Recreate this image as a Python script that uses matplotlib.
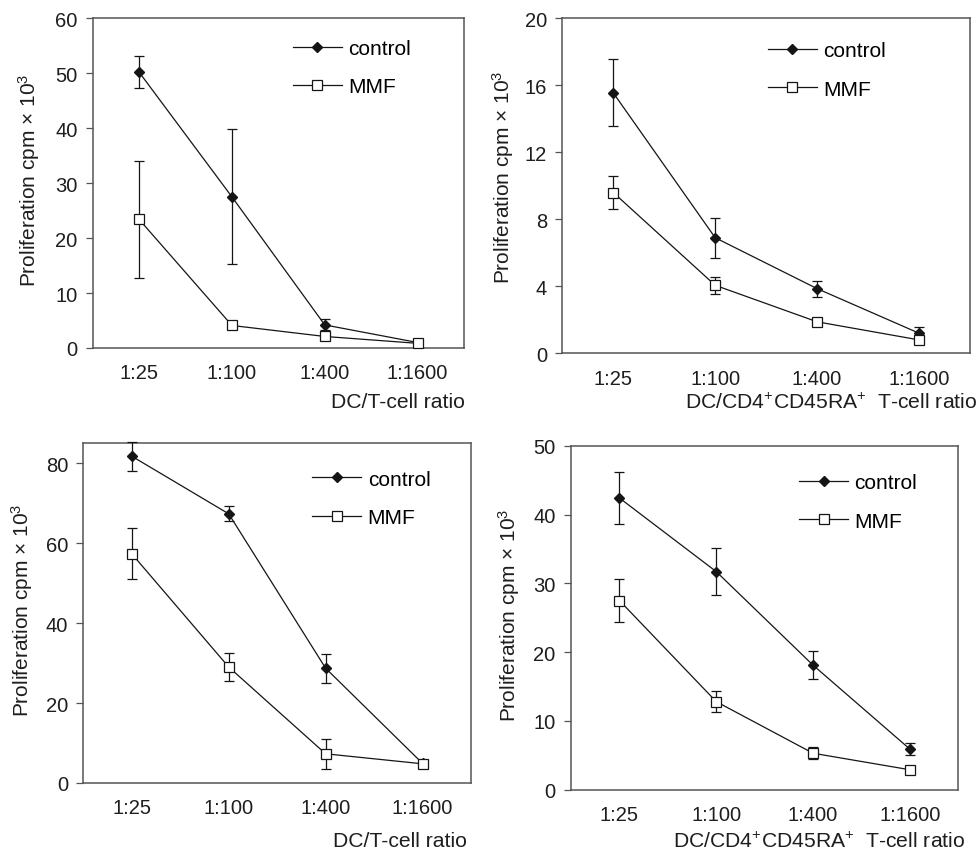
import matplotlib
matplotlib.use("Agg")
import matplotlib.pyplot as plt
import numpy as np

plt.rcParams['font.family'] = ['Liberation Sans', 'DejaVu Sans']
plt.rcParams['mathtext.fontset'] = 'custom'
plt.rcParams['mathtext.rm'] = 'Liberation Sans'
plt.rcParams['mathtext.it'] = 'Liberation Sans'

ratios = ['1:25', '1:100', '1:400', '1:1600']

# panel A - DC/T-cell, 0-60
ctrl_a = [50.2, 27.5, 4.2, 1.0]
ctrl_a_err = [2.9, 12.3, 1.0, 0.3]
mmf_a = [23.4, 4.1, 2.1, 0.85]
mmf_a_err = [10.7, 0.3, 0.4, 0.3]

# panel B - DC/CD4+CD45RA+, 0-20
ctrl_b = [15.55, 6.9, 3.86, 1.2]
ctrl_b_err = [2.0, 1.2, 0.48, 0.38]
mmf_b = [9.6, 4.06, 1.88, 0.8]
mmf_b_err = [1.0, 0.5, 0.1, 0.1]

# panel C - DC/T-cell, 0-85
ctrl_c = [81.7, 67.3, 28.7, 4.9]
ctrl_c_err = [3.6, 1.9, 3.6, 0.7]
mmf_c = [57.3, 29.0, 7.3, 4.8]
mmf_c_err = [6.4, 3.6, 3.7, 0.7]

# panel D - DC/CD4+CD45RA+, 0-50
ctrl_d = [42.4, 31.7, 18.1, 5.9]
ctrl_d_err = [3.8, 3.4, 2.0, 0.9]
mmf_d = [27.5, 12.8, 5.3, 2.9]
mmf_d_err = [3.1, 1.5, 0.9, 0.2]

ylabel = r'Proliferation cpm × 10$^{3}$'
xlab_t = 'DC/T-cell ratio'
xlab_cd = r'DC/CD4$^{+}$CD45RA$^{+}$  T-cell ratio'

W, H = 977, 853
fig = plt.figure(figsize=(W / 100, H / 100), dpi=100)

line_col = '#151515'
spine_col = '#555555'
txt_col = '#1e1e1e'
fs = 14.5


def px_box(left, top, right, bottom):
    return [left / W, 1 - bottom / H, (right - left) / W, (bottom - top) / H]


def panel(box, ctrl, ctrl_err, mmf, mmf_err, ymax, yticks, leg_xy):
    ax = fig.add_axes(box)
    x = np.arange(len(ratios))
    ax.errorbar(x, ctrl, yerr=ctrl_err, color=line_col, lw=0.9, elinewidth=0.9,
                capsize=3.3, capthick=0.9, marker='D', ms=5.2, mfc=line_col,
                mec=line_col, label='control', clip_on=False, zorder=3)
    ax.errorbar(x, mmf, yerr=mmf_err, color=line_col, lw=0.9, elinewidth=0.9,
                capsize=3.3, capthick=0.9, marker='s', ms=7, mfc='white',
                mec=line_col, mew=0.9, label='MMF', clip_on=False, zorder=4)
    ax.set_xlim(-0.5, 3.5)
    ax.set_ylim(0, ymax)
    ax.set_xticks(x)
    ax.set_xticklabels(ratios)
    ax.set_yticks(yticks)
    ax.tick_params(axis='x', length=0, pad=11, labelsize=fs, colors=txt_col)
    ax.tick_params(axis='y', length=5, width=0.9, pad=6, labelsize=fs,
                   colors=txt_col, color=spine_col)
    for s in ax.spines.values():
        s.set_color(spine_col)
        s.set_linewidth(1.1)
    handles, labels = ax.get_legend_handles_labels()
    handles = [h[0] for h in handles]
    ax.legend(handles, labels, loc='upper left', bbox_to_anchor=leg_xy,
              frameon=False, fontsize=fs + 0.5, handlelength=2.35,
              handletextpad=0.3, labelspacing=0.93, borderpad=0,
              borderaxespad=0)
    return ax


panel(px_box(92.7, 19.3, 464, 349), ctrl_a, ctrl_a_err, mmf_a, mmf_a_err,
      60, np.arange(0, 61, 10), (0.539, 0.937))
panel(px_box(562.3, 19.3, 970, 354.3), ctrl_b, ctrl_b_err, mmf_b, mmf_b_err,
      20, np.arange(0, 21, 4), (0.504, 0.931))
panel(px_box(83.3, 444, 471, 784), ctrl_c, ctrl_c_err, mmf_c, mmf_c_err,
      85, np.arange(0, 81, 20), (0.591, 0.922))
panel(px_box(571, 446.7, 958.3, 790.7), ctrl_d, ctrl_d_err, mmf_d, mmf_d_err,
      50, np.arange(0, 51, 10), (0.589, 0.920))

# y labels
for xp, yp in [(29, 180), (503, 177), (22, 610), (509, 615)]:
    fig.text(xp / W, 1 - yp / H, ylabel, rotation=90, ha='center', va='center',
             fontsize=15, color=txt_col)

# x labels
fig.text(465 / W, 1 - 403 / H, xlab_t, ha='right', va='center', fontsize=15.2,
         color=txt_col)
fig.text(685 / W, 1 - 403 / H, xlab_cd, ha='left', va='center', fontsize=15.2,
         color=txt_col)
fig.text(466.7 / W, 1 - 841.7 / H, xlab_t, ha='right', va='center',
         fontsize=15.2, color=txt_col)
fig.text(673 / W, 1 - 841.7 / H, xlab_cd, ha='left', va='center',
         fontsize=15.2, color=txt_col)

fig.savefig('out.png', dpi=100)
